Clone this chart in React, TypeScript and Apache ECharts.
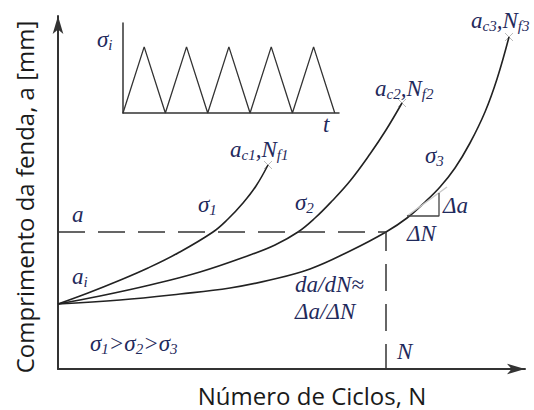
import React, { useEffect, useRef } from "react";
import * as echarts from "echarts";

// Crack length vs. number of cycles for three stress amplitudes (schematic units)
const sigma1Points: [number, number][] = [
  [0, 65], [30, 76], [60, 88], [90, 101], [120, 116], [155, 137], [170, 150], [185, 166], [198, 183], [210, 204],
];
const sigma2Points: [number, number][] = [
  [0, 65], [42, 73], [92, 84], [142, 97], [192, 114], [217, 124], [240, 137], [257, 151], [274, 168],
  [292, 188], [312, 215], [328, 239], [344, 266],
];
const sigma3Points: [number, number][] = [
  [0, 65], [62, 69], [122, 75], [172, 81], [212, 89], [252, 100], [292, 118], [328, 137], [349, 151],
  [367, 167], [382, 182], [397, 201], [412, 226], [427, 257], [439, 290], [451, 332],
];
// Failure points (a_c, N_f) at the end of each curve
const failurePoints: [number, number][] = [
  [210, 204], [344, 266], [451, 332],
];
// Reference crack length a and the matching cycle count N
const crackLevelA = 137;
const cyclesN = 328;
// Slope triangle Δa / ΔN on the σ3 curve
const slopeTriangle: [number, number][] = [[349, 153], [381, 153], [381, 176]];
const tangentLine: [number, number][] = [[349, 153], [389, 182]];
// Constant-amplitude loading history σ_i(t) in the inset
const loadTime = [0, 1, 2, 3, 4, 5, 6, 7, 8, 9, 10];
const loadStress = [0, 1, 0, 1, 0, 1, 0, 1, 0, 1, 0];

const LABEL_COLOR = "#1f2a5c";
const LINE_COLOR = "#222";
const SERIF = "Liberation Serif";
const SANS = "Open Sans";

const rich = {
  m: { font: `italic 23px ${SERIF}`, lineHeight: 26, fill: LABEL_COLOR },
  s: { font: `italic 15px ${SERIF}`, lineHeight: 16, fill: LABEL_COLOR, verticalAlign: "bottom" },
};

// Italic serif label; (x, baseline) is the left edge and baseline of the main text
function label(x: number, baseline: number, text: string) {
  return {
    type: "text",
    x,
    y: baseline - 8,
    silent: true,
    style: {
      text,
      rich,
      fill: LABEL_COLOR,
      font: `italic 23px ${SERIF}`,
      align: "left",
      verticalAlign: "middle",
    },
  };
}

export default function App() {
  const ref = useRef<HTMLDivElement>(null);

  useEffect(() => {
    if (!ref.current) return;
    const chart = echarts.init(ref.current, undefined, { renderer: "svg" });

    const curveSeries = (data: [number, number][]) => ({
      type: "line",
      xAxisIndex: 0,
      yAxisIndex: 0,
      data,
      smooth: 0.4,
      showSymbol: false,
      lineStyle: { color: LINE_COLOR, width: 1.6 },
      silent: true,
    });

    const hiddenAxisParts = {
      axisTick: { show: false },
      axisLabel: { show: false },
      splitLine: { show: false },
    };

    chart.setOption({
      animation: false,
      backgroundColor: "#fff",
      grid: [
        { left: 58, top: 16, width: 467, height: 353 },
        { left: 123, top: 23, width: 216, height: 90 },
      ],
      xAxis: [
        {
          type: "value",
          gridIndex: 0,
          min: 0,
          max: 467,
          axisLine: {
            show: true,
            onZero: false,
            symbol: ["none", "arrow"],
            symbolSize: [8, 18],
            lineStyle: { color: "#333", width: 2 },
          },
          ...hiddenAxisParts,
        },
        {
          type: "value",
          gridIndex: 1,
          min: 0,
          max: 10.2,
          axisLine: { show: true, onZero: false, lineStyle: { color: "#333", width: 1.5 } },
          ...hiddenAxisParts,
        },
      ],
      yAxis: [
        {
          type: "value",
          gridIndex: 0,
          min: 0,
          max: 353,
          axisLine: {
            show: true,
            onZero: false,
            symbol: ["none", "arrow"],
            symbolSize: [8, 18],
            lineStyle: { color: "#333", width: 2 },
          },
          ...hiddenAxisParts,
        },
        {
          type: "value",
          gridIndex: 1,
          min: 0,
          max: 1.36,
          axisLine: { show: true, onZero: false, lineStyle: { color: "#333", width: 1.5 } },
          ...hiddenAxisParts,
        },
      ],
      series: [
        curveSeries(sigma1Points),
        curveSeries(sigma2Points),
        curveSeries(sigma3Points),
        {
          type: "line",
          xAxisIndex: 0,
          yAxisIndex: 0,
          data: [[0, crackLevelA], [cyclesN, crackLevelA], [cyclesN, 0]],
          showSymbol: false,
          silent: true,
          lineStyle: { color: "#333", width: 1.5, type: [27, 13] },
        },
        {
          type: "line",
          xAxisIndex: 0,
          yAxisIndex: 0,
          data: tangentLine,
          showSymbol: false,
          silent: true,
          lineStyle: { color: "#c8c8c8", width: 1.5 },
        },
        {
          type: "line",
          xAxisIndex: 0,
          yAxisIndex: 0,
          data: slopeTriangle,
          showSymbol: false,
          silent: true,
          lineStyle: { color: "#444", width: 1.3 },
        },
        {
          type: "scatter",
          xAxisIndex: 0,
          yAxisIndex: 0,
          data: failurePoints,
          symbol: "path://M0 0L10 10M10 0L0 10",
          symbolSize: 8,
          silent: true,
          itemStyle: { color: "none", borderColor: "#aaa", borderWidth: 1 },
        },
        {
          type: "line",
          xAxisIndex: 1,
          yAxisIndex: 1,
          data: loadTime.map((t, i) => [t, loadStress[i]]),
          showSymbol: false,
          silent: true,
          lineStyle: { color: "#333", width: 1.3 },
        },
      ],
      graphic: [
        label(97, 47, "{m|σ}{s|i}"),
        label(323, 132, "{m|t}"),
        label(230, 157, "{m|a}{s|c1}{m|,N}{s|f1}"),
        label(375, 96, "{m|a}{s|c2}{m|,N}{s|f2}"),
        label(471, 28, "{m|a}{s|c3}{m|,N}{s|f3}"),
        label(198, 212, "{m|σ}{s|1}"),
        label(295, 210, "{m|σ}{s|2}"),
        label(425, 163, "{m|σ}{s|3}"),
        label(72, 222, "{m|a}"),
        label(72, 284, "{m|a}{s|i}"),
        label(443, 213, "{m|Δa}"),
        label(407, 241, "{m|ΔN}"),
        label(295, 292, "{m|da/dN≈}"),
        label(295, 319, "{m|Δa/ΔN}"),
        label(397, 359, "{m|N}"),
        label(90, 351, "{m|σ}{s|1}{m|>σ}{s|2}{m|>σ}{s|3}"),
        {
          type: "text",
          x: 312,
          y: 395,
          silent: true,
          style: {
            text: "Número de Ciclos, N",
            fill: "#1a1a1a",
            font: `24px ${SANS}`,
            align: "center",
            verticalAlign: "middle",
          },
        },
        {
          type: "text",
          x: 24,
          y: 197,
          rotation: Math.PI / 2,
          silent: true,
          style: {
            text: "Comprimento da fenda, a [mm]",
            fill: "#1a1a1a",
            font: `24px ${SANS}`,
            align: "center",
            verticalAlign: "middle",
          },
        },
      ],
    });

    return () => chart.dispose();
  }, []);

  return (
    <div
      ref={ref}
      style={{ position: "absolute", left: 0, top: 0, width: 534, height: 410, background: "#fff" }}
    />
  );
}
